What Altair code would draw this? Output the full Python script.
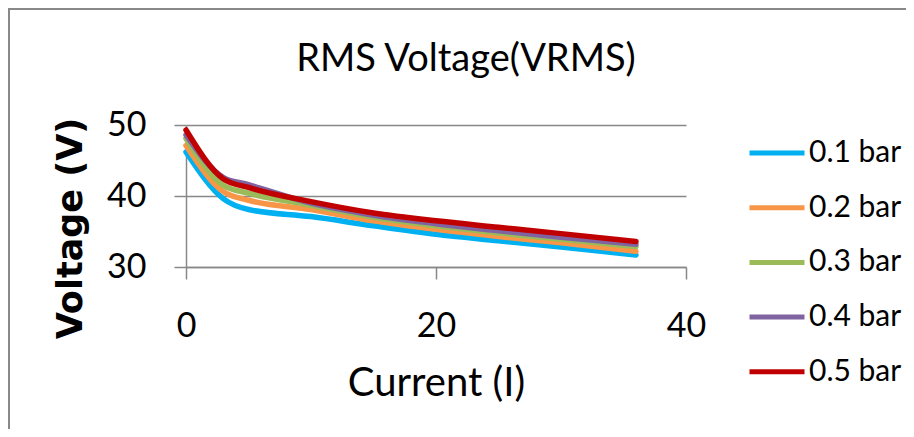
import altair as alt
import pandas as pd

# ---- data ----
current = [0, 3, 5, 10, 15, 20, 25, 30, 36]
series_names = ["0.1 bar", "0.2 bar", "0.3 bar", "0.4 bar", "0.5 bar"]
v_01 = [46.2, 39.6, 38.1, 37.1, 35.8, 34.6, 33.7, 32.8, 31.7]
v_02 = [47.1, 40.6, 39.4, 38.1, 36.5, 35.3, 34.3, 33.4, 32.2]
v_03 = [48.1, 41.5, 40.4, 38.7, 37.0, 35.8, 34.8, 33.9, 32.9]
v_04 = [48.6, 42.6, 41.6, 39.0, 37.3, 36.1, 35.1, 34.2, 33.2]
v_05 = [49.3, 42.4, 41.2, 39.2, 37.6, 36.5, 35.6, 34.7, 33.6]
colors = ["#00B0F0", "#F79646", "#9BBB59", "#8064A2", "#C00000"]
x_ticks = [0, 20, 40]
y_ticks = [30, 40, 50]
chart_title = "RMS Voltage(VRMS)"

rows = []
for name, vals in zip(series_names, [v_01, v_02, v_03, v_04, v_05]):
    for c, v in zip(current, vals):
        rows.append({"Current": c, "Voltage": v, "Series": name})
df = pd.DataFrame(rows)

FONT = "Lato"
GRAY = "#888888"

lines = alt.Chart(df).mark_line(
    strokeWidth=5.5, interpolate="monotone", strokeCap="round", strokeJoin="round"
).encode(
    x=alt.X("Current:Q",
            scale=alt.Scale(domain=[0, 40], nice=False, zero=False),
            axis=alt.Axis(values=x_ticks, title="Current (I)", grid=False,
                          tickSize=12, labelPadding=47, labelBaseline="middle",
                          labelFlush=False, labelFontSize=34,
                          titleFontSize=40, titleFontWeight="normal",
                          titleY=116, titleBaseline="middle")),
    y=alt.Y("Voltage:Q",
            scale=alt.Scale(domain=[30, 50], nice=False, zero=False),
            axis=alt.Axis(values=y_ticks, title="Voltage (V)", grid=True,
                          tickSize=12, labelPadding=28, labelFontSize=34,
                          labelFlush=False,
                          titleFont="DejaVu Sans", titleFontSize=35,
                          titleFontWeight="bold",
                          titleX=-116, titleY=103, titleAngle=270,
                          titleAlign="center", titleBaseline="middle")),
    color=alt.Color("Series:N",
                    scale=alt.Scale(domain=series_names, range=colors),
                    legend=alt.Legend(title=None, orient="none", legendX=561, legendY=-2,
                                      symbolType="stroke", symbolSize=3025,
                                      symbolStrokeWidth=5, labelFontSize=30,
                                      labelFont=FONT, labelColor="black",
                                      labelOffset=2, rowPadding=9.7)),
)

frame_df = pd.DataFrame({"k": [0]})
left_edge = alt.Chart(frame_df).mark_rect(color=GRAY).encode(
    x=alt.value(-178), x2=alt.value(-176), y=alt.value(-117), y2=alt.value(304))
top_edge = alt.Chart(frame_df).mark_rect(color=GRAY).encode(
    x=alt.value(-178), x2=alt.value(720), y=alt.value(-117), y2=alt.value(-115))
title_text = alt.Chart(frame_df).mark_text(
    text=chart_title, font=FONT, fontSize=38, color="black",
    align="center", baseline="middle"
).encode(x=alt.value(280), y=alt.value(-65))

chart = alt.layer(left_edge, top_edge, title_text, lines).properties(
    width=500, height=142,
    padding={"left": 0, "top": 0, "right": 0, "bottom": 0},
).configure_view(stroke=None).configure_axis(
    domainColor=GRAY, domainWidth=1.5, tickColor=GRAY, tickWidth=1.5,
    gridColor=GRAY, gridWidth=1.5, labelFont=FONT, titleFont=FONT,
    labelColor="black", titleColor="black",
)

chart.save("out.html", embed_options={"renderer": "svg", "actions": False})
